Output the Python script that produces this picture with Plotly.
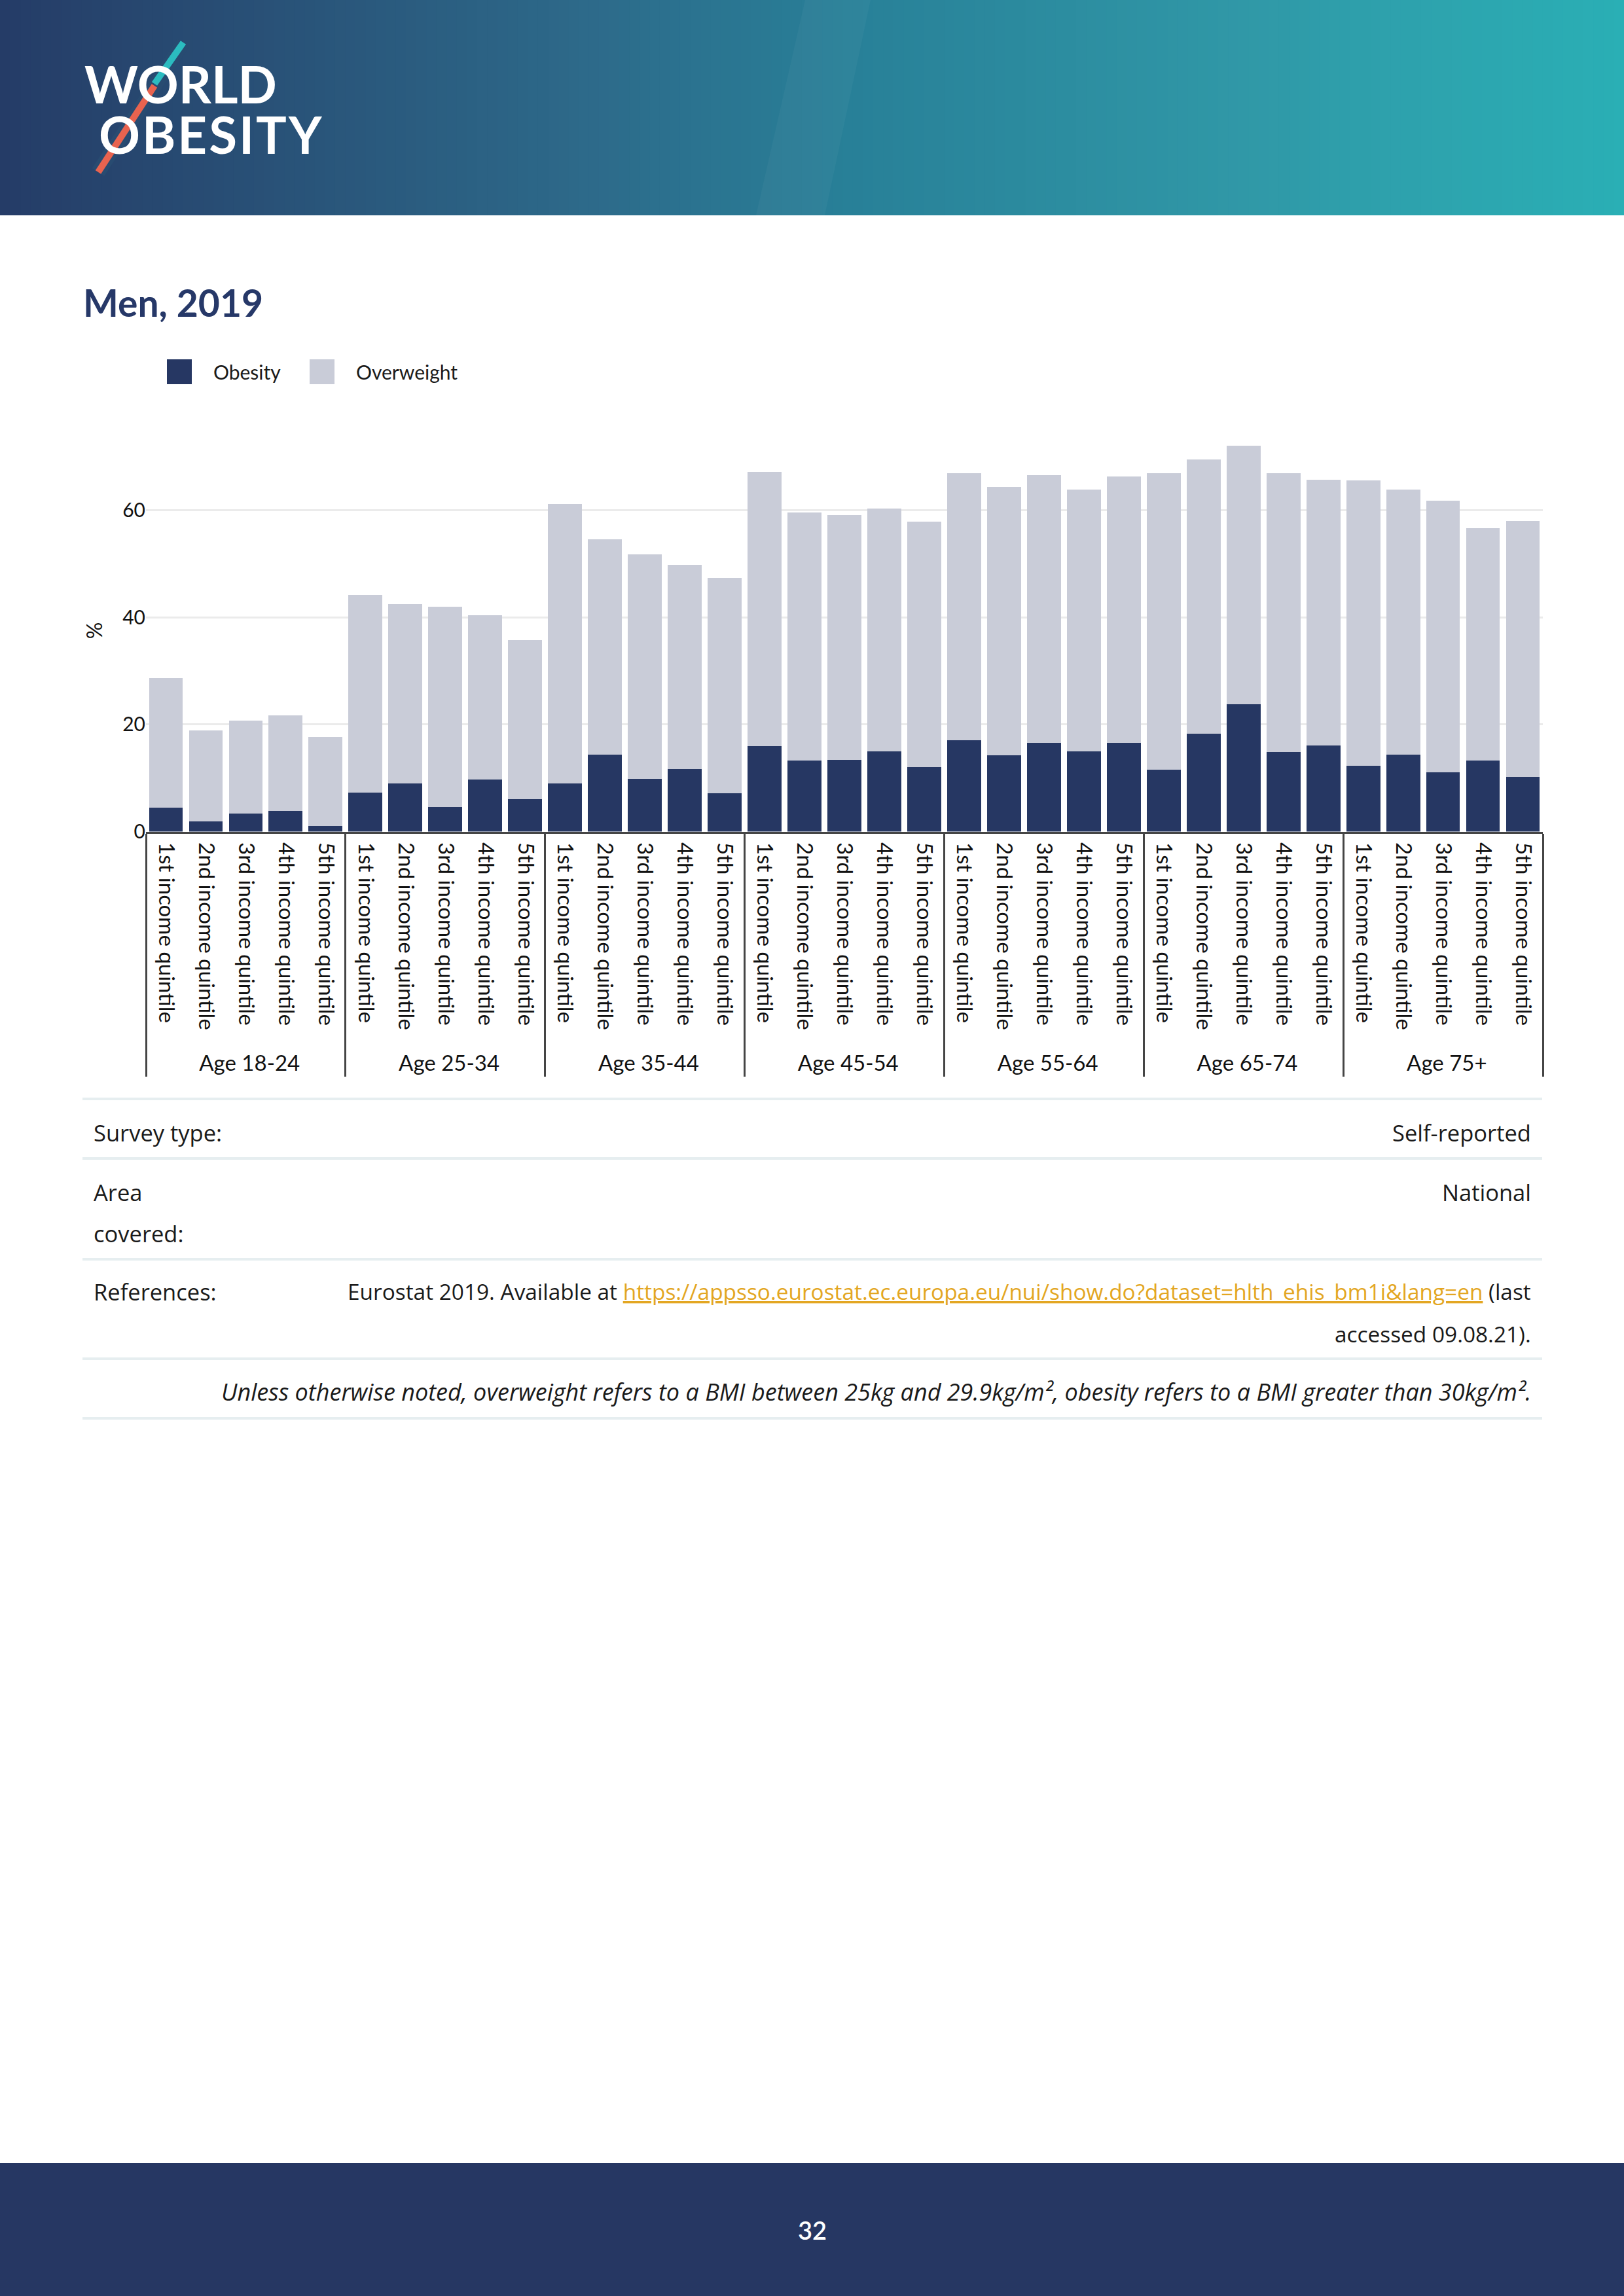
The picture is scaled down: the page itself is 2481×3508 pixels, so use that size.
import plotly.graph_objects as go

# ---------------- data ----------------
age_groups = ["Age 18-24", "Age 25-34", "Age 35-44", "Age 45-54",
              "Age 55-64", "Age 65-74", "Age 75+"]
quintiles = ["1st income quintile", "2nd income quintile", "3rd income quintile",
             "4th income quintile", "5th income quintile"]

# % obesity (BMI >= 30), men 2019, ordered age group by age group, quintile 1..5
obesity = [4.4, 1.9, 3.3, 3.8, 1.0,
           7.3, 9.0, 4.6, 9.7, 6.0,
           9.0, 14.4, 9.8, 11.7, 7.2,
           16.0, 13.2, 13.4, 15.0, 12.0,
           17.1, 14.2, 16.6, 15.0, 16.6,
           11.5, 18.3, 23.8, 14.8, 16.1,
           12.3, 14.4, 11.1, 13.3, 10.2]
# % overweight (BMI 25-29.9), stacked on top of obesity
overweight = [24.2, 17.0, 17.4, 17.9, 16.7,
              36.8, 33.5, 37.4, 30.7, 29.7,
              52.1, 40.1, 41.9, 38.1, 40.1,
              51.1, 46.4, 45.7, 45.3, 45.8,
              49.8, 50.1, 49.9, 48.8, 49.7,
              55.4, 51.1, 48.2, 52.1, 49.6,
              53.2, 49.4, 50.7, 43.3, 47.7]
y_ticks = [0, 20, 40, 60]

# ---------------- styling ----------------
W = 2481
FIG_H = 3508
NAVY = "#263763"
GREY = "#c9ccd8"
FONT = "Lato"
TFONT = "Open Sans"
TXT = "#1a1a1a"
PAD = "\u00a0"   # invisible trailing padding so the age-group row sits a bit lower


def px(x):
    return x / W


def py(y):
    return 1 - y / FIG_H


x_outer = [g for g in age_groups for _ in quintiles]
x_inner = [q + PAD for _ in age_groups for q in quintiles]

fig = go.Figure()
fig.add_trace(go.Bar(x=[x_outer, x_inner], y=obesity, name="Obesity",
                     marker=dict(color=NAVY, line=dict(width=0))))
fig.add_trace(go.Bar(x=[x_outer, x_inner], y=overweight, name="Overweight",
                     marker=dict(color=GREY, line=dict(width=0))))

shapes = []
annotations = []

# header gradient
stops = [(0, (37, 60, 103)), (900, (45, 106, 138)), (1300, (40, 128, 152)),
         (1900, (48, 152, 167)), (2481, (42, 175, 181))]


def col_at(x):
    for (x0, c0), (x1, c1) in zip(stops[:-1], stops[1:]):
        if x0 <= x <= x1:
            t = (x - x0) / (x1 - x0)
            return "rgb(%d,%d,%d)" % tuple(round(a + (b - a) * t) for a, b in zip(c0, c1))
    return "rgb(%d,%d,%d)" % stops[-1][1]


N = 160
for i in range(N):
    x0 = W * i / N
    x1 = W * (i + 1) / N + 1
    shapes.append(dict(type="rect", xref="paper", yref="paper",
                       x0=px(x0), x1=px(x1), y0=py(329), y1=1,
                       fillcolor=col_at((x0 + x1) / 2), line=dict(width=0), layer="below"))
# subtle lighter streak
shapes.append(dict(type="path", xref="paper", yref="paper",
                   path="M %f,%f L %f,%f L %f,%f L %f,%f Z" % (
                       px(1230), 1, px(1330), 1, px(1260), py(329), px(1155), py(329)),
                   fillcolor="rgba(255,255,255,0.035)", line=dict(width=0), layer="below"))

# logo (one text block, tight line spacing)
shapes.append(dict(type="line", xref="paper", yref="paper",
                   x0=px(280), y0=py(65), x1=px(150), y1=py(263),
                   line=dict(color="rgb(40,75,113)", width=22)))
annotations.append(dict(
    text="<span style='font-size:78px'>WORLD</span><br>"
         "<span style='font-size:78px;letter-spacing:3px'>\u00a0OBESITY</span>",
    x=px(127), y=py(166), xref="paper", yref="paper",
    xanchor="left", yanchor="middle", align="left", showarrow=False,
    font=dict(family=FONT, size=59, color="white", weight=700)))
shapes.append(dict(type="line", xref="paper", yref="paper",
                   x0=px(280), y0=py(65), x1=px(236), y1=py(128),
                   line=dict(color="#2bbcc0", width=10)))
shapes.append(dict(type="line", xref="paper", yref="paper",
                   x0=px(236), y0=py(131), x1=px(150), y1=py(263),
                   line=dict(color="#e8634f", width=10)))

# title
annotations.append(dict(text="<b>Men, 2019</b>", x=px(125), y=py(462), xref="paper", yref="paper",
                        xanchor="left", yanchor="middle", showarrow=False,
                        font=dict(family=FONT, size=57, color="#263868")))

# manual legend
for (x0, name, color, tx) in [(255, "Obesity", NAVY, 324), (473, "Overweight", GREY, 542)]:
    shapes.append(dict(type="rect", xref="paper", yref="paper",
                       x0=px(x0), x1=px(x0 + 38), y0=py(587), y1=py(549),
                       fillcolor=color, line=dict(width=0)))
    annotations.append(dict(text=name, x=px(tx), y=py(568), xref="paper", yref="paper",
                            xanchor="left", yanchor="middle", showarrow=False,
                            font=dict(family=FONT, size=30, color=TXT)))

# table lines
for yy in [1679, 1770, 1924, 2076, 2167]:
    shapes.append(dict(type="line", xref="paper", yref="paper",
                       x0=px(126), x1=px(2356), y0=py(yy), y1=py(yy),
                       line=dict(color="#e6eef0", width=4)))


def txt(t, x, y, anchor, italic=False, size=34.5):
    annotations.append(dict(text=t, x=px(x), y=py(y), xref="paper", yref="paper",
                            xanchor=anchor, yanchor="middle", showarrow=False,
                            font=dict(family=TFONT, size=size, color=TXT,
                                      style="italic" if italic else "normal")))


txt("Survey type:", 141, 1730, "left")
txt("Self-reported", 2341, 1730, "right")
txt("Area", 141, 1821, "left")
txt("covered:", 141, 1884, "left")
txt("National", 2341, 1821, "right")
txt("References:", 141, 1973, "left")
link = "https://appsso.eurostat.ec.europa.eu/nui/show.do?dataset=hlth_ehis_bm1i&lang=en"
txt("Eurostat 2019. Available at <span style='color:#e3a622'><u>" + link + "</u></span> (last",
    2341, 1973, "right", size=33.4)
txt("accessed 09.08.21).", 2341, 2038, "right", size=33.4)
txt("Unless otherwise noted, overweight refers to a BMI between 25kg and 29.9kg/m², "
    "obesity refers to a BMI greater than 30kg/m².", 2341, 2126, "right", italic=True, size=36)

# footer
shapes.append(dict(type="rect", xref="paper", yref="paper",
                   x0=0, x1=1, y0=0, y1=py(3305), fillcolor=NAVY, line=dict(width=0), layer="below"))
annotations.append(dict(text="32", x=0.5, y=py(3407), xref="paper", yref="paper",
                        xanchor="center", yanchor="middle", showarrow=False,
                        font=dict(family=FONT, size=38, color="white", weight=600)))

fig.update_layout(
    width=W, height=FIG_H,
    margin=dict(l=0, r=0, t=0, b=0, pad=0, autoexpand=False),
    paper_bgcolor="white", plot_bgcolor="white",
    barmode="stack", bargap=0.15,
    showlegend=False,
    font=dict(family=FONT, color="#111111"),
    shapes=shapes, annotations=annotations,
    xaxis=dict(domain=[px(223), px(2357)], type="multicategory", automargin=False,
               tickangle=90, tickfont=dict(family=FONT, size=33, color="#111111"),
               ticklabelstandoff=7,
               showline=True, linecolor="#454545", linewidth=3,
               showdividers=True, dividercolor="#454545", dividerwidth=3,
               ticks="", showgrid=False),
    yaxis=dict(domain=[py(1270.5), py(656.5)], range=[0, 75], automargin=False,
               tickvals=y_ticks, tickfont=dict(family=FONT, size=30, color="#111111"),
               showgrid=True, gridcolor="#ebebeb", gridwidth=3,
               zeroline=False, showline=False, ticks="",
               title=dict(text="%", font=dict(family=FONT, size=32, color="#111111"),
                          standoff=20)),
)

css_js = ("var h=document.documentElement, b=document.body;"
          "h.style.margin='0'; h.style.padding='0'; h.style.overflow='hidden';"
          "h.style.background='" + NAVY + "';"
          "b.style.margin='0'; b.style.padding='0'; b.style.overflow='hidden';"
          "b.style.background='" + NAVY + "';")

fig.write_html("out.html", config={"displayModeBar": False, "responsive": False},
               post_script=css_js)
